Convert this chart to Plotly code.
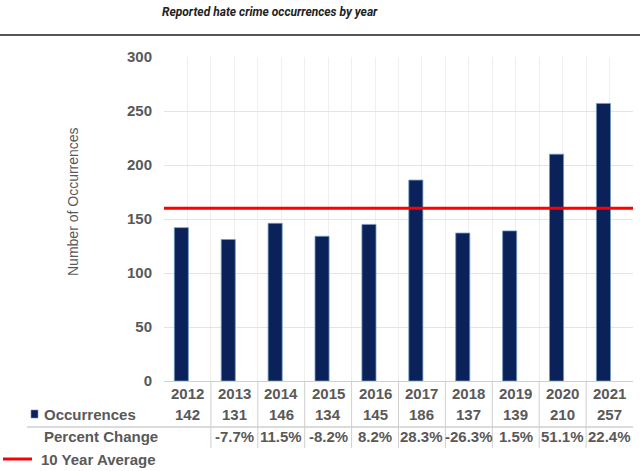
import plotly.graph_objects as go

years = ["2012", "2013", "2014", "2015", "2016", "2017", "2018", "2019", "2020", "2021"]
occurrences = [142, 131, 146, 134, 145, 186, 137, 139, 210, 257]
percent_change = ["", "-7.7%", "11.5%", "-8.2%", "8.2%", "28.3%", "-26.3%", "1.5%", "51.1%", "22.4%"]
ten_year_average = 160
y_ticks = [0, 50, 100, 150, 200, 250, 300]

W, H = 640, 471
L, R, T, B = 164, 7, 57, 90
PW = W - L - R
PH = H - T - B

def py(p):  # pixel y -> paper y
    return (H - B - p) / PH

def px(p):  # pixel x -> paper x
    return (p - L) / PW

NAVY = "#0b2159"
GREY = "#595959"
FONT = "Liberation Sans, Arial, sans-serif"

idx = list(range(len(years)))

fig = go.Figure()
fig.add_trace(go.Bar(
    x=idx, y=occurrences, width=0.30, offset=-0.28,
    marker=dict(color=NAVY, line=dict(color="#6f9cc2", width=0.8)),
    hoverinfo="skip", showlegend=False,
))
fig.add_trace(go.Scatter(
    x=[-0.5, len(years) - 0.5], y=[ten_year_average, ten_year_average],
    mode="lines", line=dict(color="#ff0000", width=3),
    hoverinfo="skip", showlegend=False,
))

half_ticks = [i / 2 for i in range(-1, 2 * len(years))]

fig.update_layout(
    width=W, height=H,
    margin=dict(l=L, r=R, t=T, b=B),
    paper_bgcolor="white", plot_bgcolor="white",
    showlegend=False,
    xaxis=dict(range=[-0.5, len(years) - 0.5], tickvals=half_ticks, showticklabels=False,
               showgrid=True, gridcolor="#efefef", gridwidth=1, zeroline=False,
               showline=True, linecolor="#d0d0d0", linewidth=1, ticks=""),
    yaxis=dict(range=[0, 300], tickvals=y_ticks, showgrid=True, gridcolor="#e4e4e4",
               gridwidth=1.2, zeroline=False, ticks="", ticklabelstandoff=11,
               tickfont=dict(family=FONT, size=15, color=GREY, weight="bold")),
)

annotations = []
# title
annotations.append(dict(text="<b><i>Reported hate crime occurrences by year</i></b>",
                        xref="paper", yref="paper", x=px(270), y=py(12), showarrow=False,
                        xanchor="center", yanchor="middle",
                        font=dict(family="Roboto, sans-serif", size=12, color="#222222")))
# y axis title
annotations.append(dict(text="Number of Occurrences", xref="paper", yref="paper",
                        x=px(73), y=py(202), textangle=-90, showarrow=False,
                        xanchor="center", yanchor="middle",
                        font=dict(family=FONT, size=14, color=GREY)))
bold = dict(family=FONT, size=15, color=GREY, weight="bold")
for i, yr in enumerate(years):
    annotations.append(dict(text=yr, xref="x", yref="paper", x=i, y=py(393), showarrow=False,
                            xanchor="center", yanchor="middle", font=bold))
    annotations.append(dict(text=str(occurrences[i]), xref="x", yref="paper", x=i, y=py(414),
                            showarrow=False, xanchor="center", yanchor="middle", font=bold))
    if percent_change[i]:
        annotations.append(dict(text=percent_change[i], xref="x", yref="paper", x=i, y=py(437),
                                showarrow=False, xanchor="center", yanchor="middle", font=bold))
annotations.append(dict(text="Occurrences", xref="paper", yref="paper", x=px(42), y=py(414),
                        showarrow=False, xanchor="left", yanchor="middle", font=bold))
annotations.append(dict(text="Percent Change", xref="paper", yref="paper", x=px(42), y=py(437),
                        showarrow=False, xanchor="left", yanchor="middle", font=bold))
annotations.append(dict(text="10 Year Average", xref="paper", yref="paper", x=px(39), y=py(459),
                        showarrow=False, xanchor="left", yanchor="middle", font=bold))
fig.update_layout(annotations=annotations)

shapes = []
# rule under title
shapes.append(dict(type="line", xref="paper", yref="paper", x0=px(0), x1=px(W), y0=py(35), y1=py(35),
                   line=dict(color="#555555", width=2)))
# table lines
for i in range(1, len(years)):
    shapes.append(dict(type="line", xref="x", yref="paper", x0=i - 0.5, x1=i - 0.5,
                       y0=py(381), y1=py(448), line=dict(color="#cfcfcf", width=1)))
shapes.append(dict(type="line", xref="paper", yref="paper", x0=px(27), x1=px(633),
                   y0=py(427), y1=py(427), line=dict(color="#cfcfcf", width=1.5)))
# legend markers
shapes.append(dict(type="rect", xref="paper", yref="paper", x0=px(31), x1=px(38),
                   y0=py(410), y1=py(418), fillcolor=NAVY, line=dict(color="#6f9cc2", width=0.6)))
shapes.append(dict(type="line", xref="paper", yref="paper", x0=px(3), x1=px(32),
                   y0=py(459), y1=py(459), line=dict(color="#ff0000", width=3)))
fig.update_layout(shapes=shapes)

fig.write_html("out.html")
